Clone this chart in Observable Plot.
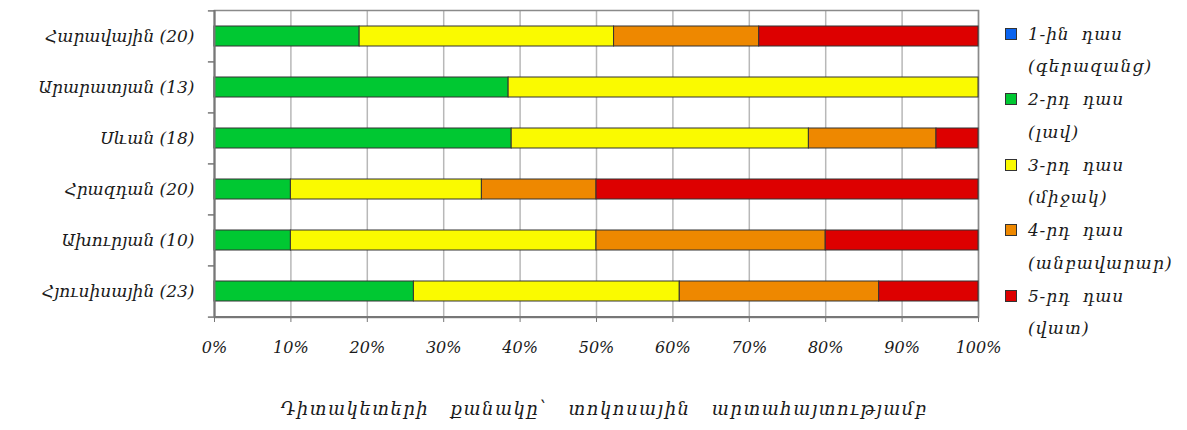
<!DOCTYPE html>
<html>
<head>
<meta charset="utf-8">
<script src="https://cdn.jsdelivr.net/npm/d3@7"></script>
<script src="https://cdn.jsdelivr.net/npm/@observablehq/plot@0.6"></script>
<style>
  body { margin: 0; background: #fff; }
  #wrap { position: relative; width: 1187px; height: 430px; font-family: "DejaVu Serif", serif; font-style: italic; color: #1a1a1a; }
  #legend { position: absolute; left: 1005px; top: 17px; }
  .item { height: 65.5px; }
  .row1 { display: flex; align-items: center; height: 33px; font-size: 17px; letter-spacing: 0.8px; word-spacing: 6px; }
  .sw { width: 12px; height: 12px; border: 1px solid #333; margin-right: 11px; box-sizing: border-box; }
  .row2 { height: 32px; line-height: 32px; padding-left: 23px; font-size: 17px; letter-spacing: 1.2px; word-spacing: 6px; }
  #xtitle { position: absolute; left: 214px; width: 780px; top: 398px; text-align: center; font-size: 18px; letter-spacing: 1.5px; word-spacing: 14px; }
  svg g[aria-label="y-axis tick label"] text { letter-spacing: 1.4px; }
</style>
</head>
<body>
<div id="wrap">
  <div id="chart"></div>
  <div id="legend"></div>
  <div id="xtitle"></div>
</div>
<script>
const regions = ["Հարավային (20)", "Արարատյան (13)", "Սևան (18)", "Հրազդան (20)", "Ախուրյան (10)", "Հյուսիսային (23)"];
const classes = ["1-ին դաս", "2-րդ դաս", "3-րդ դաս", "4-րդ դաս", "5-րդ դաս"];
const classNotes = ["(գերազանց)", "(լավ)", "(միջակ)", "(անբավարար)", "(վատ)"];
const classColors = ["#0a64f0", "#00c832", "#fafa00", "#ee8800", "#dd0000"];
// percent of observation points per class, per region (top to bottom)
const class1 = [0, 0, 0, 0, 0, 0];
const class2 = [19.0, 38.5, 38.9, 10, 10, 26.1];
const class3 = [33.3, 61.5, 38.9, 25, 40, 34.8];
const class4 = [19.0, 0, 16.7, 15, 30, 26.1];
const class5 = [28.7, 0, 5.5, 50, 20, 13.0];
const xTicks = [0, 10, 20, 30, 40, 50, 60, 70, 80, 90, 100];
const xTitle = "Դիտակետերի քանակը՝ տոկոսային արտահայտությամբ";

const series = [class1, class2, class3, class4, class5];
const data = [];
regions.forEach((r, i) => series.forEach((s, k) => {
  if (s[i] > 0) data.push({region: r, cls: classes[k], value: s[i]});
}));

const chart = Plot.plot({
  width: 1187,
  height: 430,
  marginLeft: 214,
  marginRight: 209,
  marginTop: 10,
  marginBottom: 113,
  style: {fontFamily: "DejaVu Serif, serif", fontStyle: "italic", fontSize: "17px", color: "#1a1a1a", background: "transparent"},
  x: {domain: [0, 100], ticks: xTicks, tickFormat: d => d + "%", label: null},
  y: {domain: regions, paddingInner: 0.6, paddingOuter: 0.3, label: null},
  color: {domain: classes, range: classColors},
  marks: [
    Plot.gridX(xTicks, {stroke: "#b8b8b8", strokeOpacity: 1, strokeWidth: 1.5}),
    Plot.frame({stroke: "#8a8a8a", strokeWidth: 1.5}),
    Plot.barX(data, Plot.stackX({x: "value", y: "region", fill: "cls", stroke: "#333", strokeWidth: 1, order: classes})),
    Plot.axisX({ticks: xTicks, tickFormat: d => d + "%", tickSize: 5, tickPadding: 19, stroke: "#777", fontSize: 16}),
    Plot.axisY({tickSize: 0, tickPadding: 20, fontSize: 17, ariaLabel: "y-axis tick label"}),
    Plot.ruleX([0], {stroke: "#777", strokeWidth: 2}),
    Plot.ruleY([100], {x1: 0, x2: 100, y: () => regions[regions.length - 1], dy: 25.6, stroke: "#777", strokeWidth: 2}),
    Plot.ruleY(regions, {y: d => d, x1: -0.8, x2: 0, dy: -25.6, stroke: "#777", strokeWidth: 1.5}),
    Plot.ruleY([regions[regions.length - 1]], {y: d => d, x1: -0.8, x2: 0, dy: 25.6, stroke: "#777", strokeWidth: 1.5})
  ]
});
document.getElementById("chart").appendChild(chart);

const legend = document.getElementById("legend");
classes.forEach((c, k) => {
  const item = document.createElement("div");
  item.className = "item";
  item.innerHTML = `<div class="row1"><div class="sw" style="background:${classColors[k]}"></div><span>${c}</span></div><div class="row2">${classNotes[k]}</div>`;
  legend.appendChild(item);
});
document.getElementById("xtitle").textContent = xTitle;
</script>
</body>
</html>
